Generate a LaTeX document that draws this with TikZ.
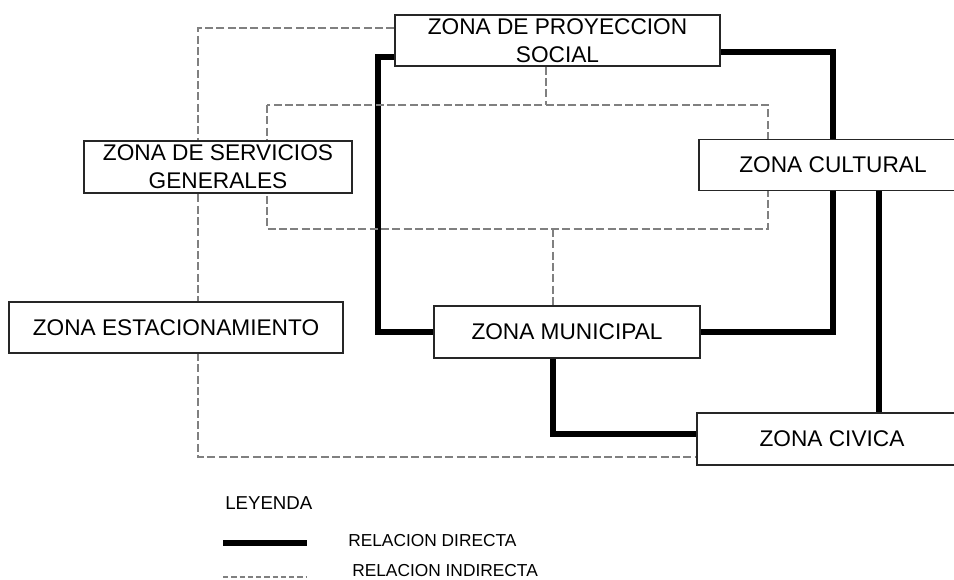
\documentclass[tikz,border=0pt]{standalone}
\usepackage{fontspec}
\setmainfont{Liberation Sans}
\usetikzlibrary{backgrounds}

\begin{document}
\begin{tikzpicture}[x=0.75pt,y=-0.75pt,
  zone/.style={draw=black!85,line width=1.2pt,fill=white,inner sep=0pt,align=center,font=\fontsize{17}{21}\selectfont},
  direct/.style={line width=4pt},
  indirect/.style={draw=black!50,line width=0.8pt,dash pattern=on 6pt off 2.5pt},
  legend text/.style={anchor=west,inner sep=0pt,font=\fontsize{13}{15}\selectfont}]

  \useasboundingbox (0,0) rectangle (954,580);

  \node[zone,minimum width=243.75pt,minimum height=38.25pt] (proy) at (557.5,40.5) {ZONA DE PROYECCION\\SOCIAL};
  \node[zone,minimum width=201pt,minimum height=39pt] (serv) at (218,167) {ZONA DE SERVICIOS\\GENERALES};
  \node[zone,minimum width=250.5pt,minimum height=38.25pt] (est) at (176,327.5) {ZONA ESTACIONAMIENTO};
  \node[zone,minimum width=199.5pt,minimum height=39pt] (muni) at (567,332) {ZONA MUNICIPAL};
  \node[zone,minimum width=201pt,minimum height=38.25pt] (cult) at (833,165) {ZONA CULTURAL};
  \node[zone,minimum width=202.5pt,minimum height=39pt] (civ) at (832,439) {ZONA CIVICA};

  \begin{scope}[on background layer]
    \draw[direct] (proy.west |- 0,57) -| (378,332) -- (muni.west);
    \draw[direct] (proy.east |- 0,52) -| (cult.north);
    \draw[direct] (cult.south) |- (muni.east);
    \draw[direct] (cult.south -| 879,0) -- (civ.north -| 879,0);
    \draw[direct] (muni.south -| 553,0) |- (civ.west |- 0,434);
    \draw[indirect] (proy.west |- 0,28) -| (198,457) -- (civ.west |- 0,457);
    \draw[indirect] (267,105) rectangle (768,229);
    \draw[indirect] (proy.south -| 546,0) -- (546,105);
    \draw[indirect] (553,229) -- (muni.north -| 553,0);
  \end{scope}

  % leyenda
  \node[anchor=west,inner sep=0pt,font=\fontsize{14}{16}\selectfont] (ley) at (225,503) {LEYENDA};
  \coordinate (d1) at (223,543);
  \coordinate (d2) at (307,543);
  \draw[direct] (d1) -- (d2);
  \node[legend text] (dir) at (348,541) {RELACION DIRECTA};
  \coordinate (i1) at (223,577);
  \coordinate (i2) at (307,577);
  \draw[indirect,dash pattern=on 4pt off 2.2pt] (i1) -- (i2);
  \node[legend text] (ind) at (352,571) {RELACION INDIRECTA};
\end{tikzpicture}
\end{document}
